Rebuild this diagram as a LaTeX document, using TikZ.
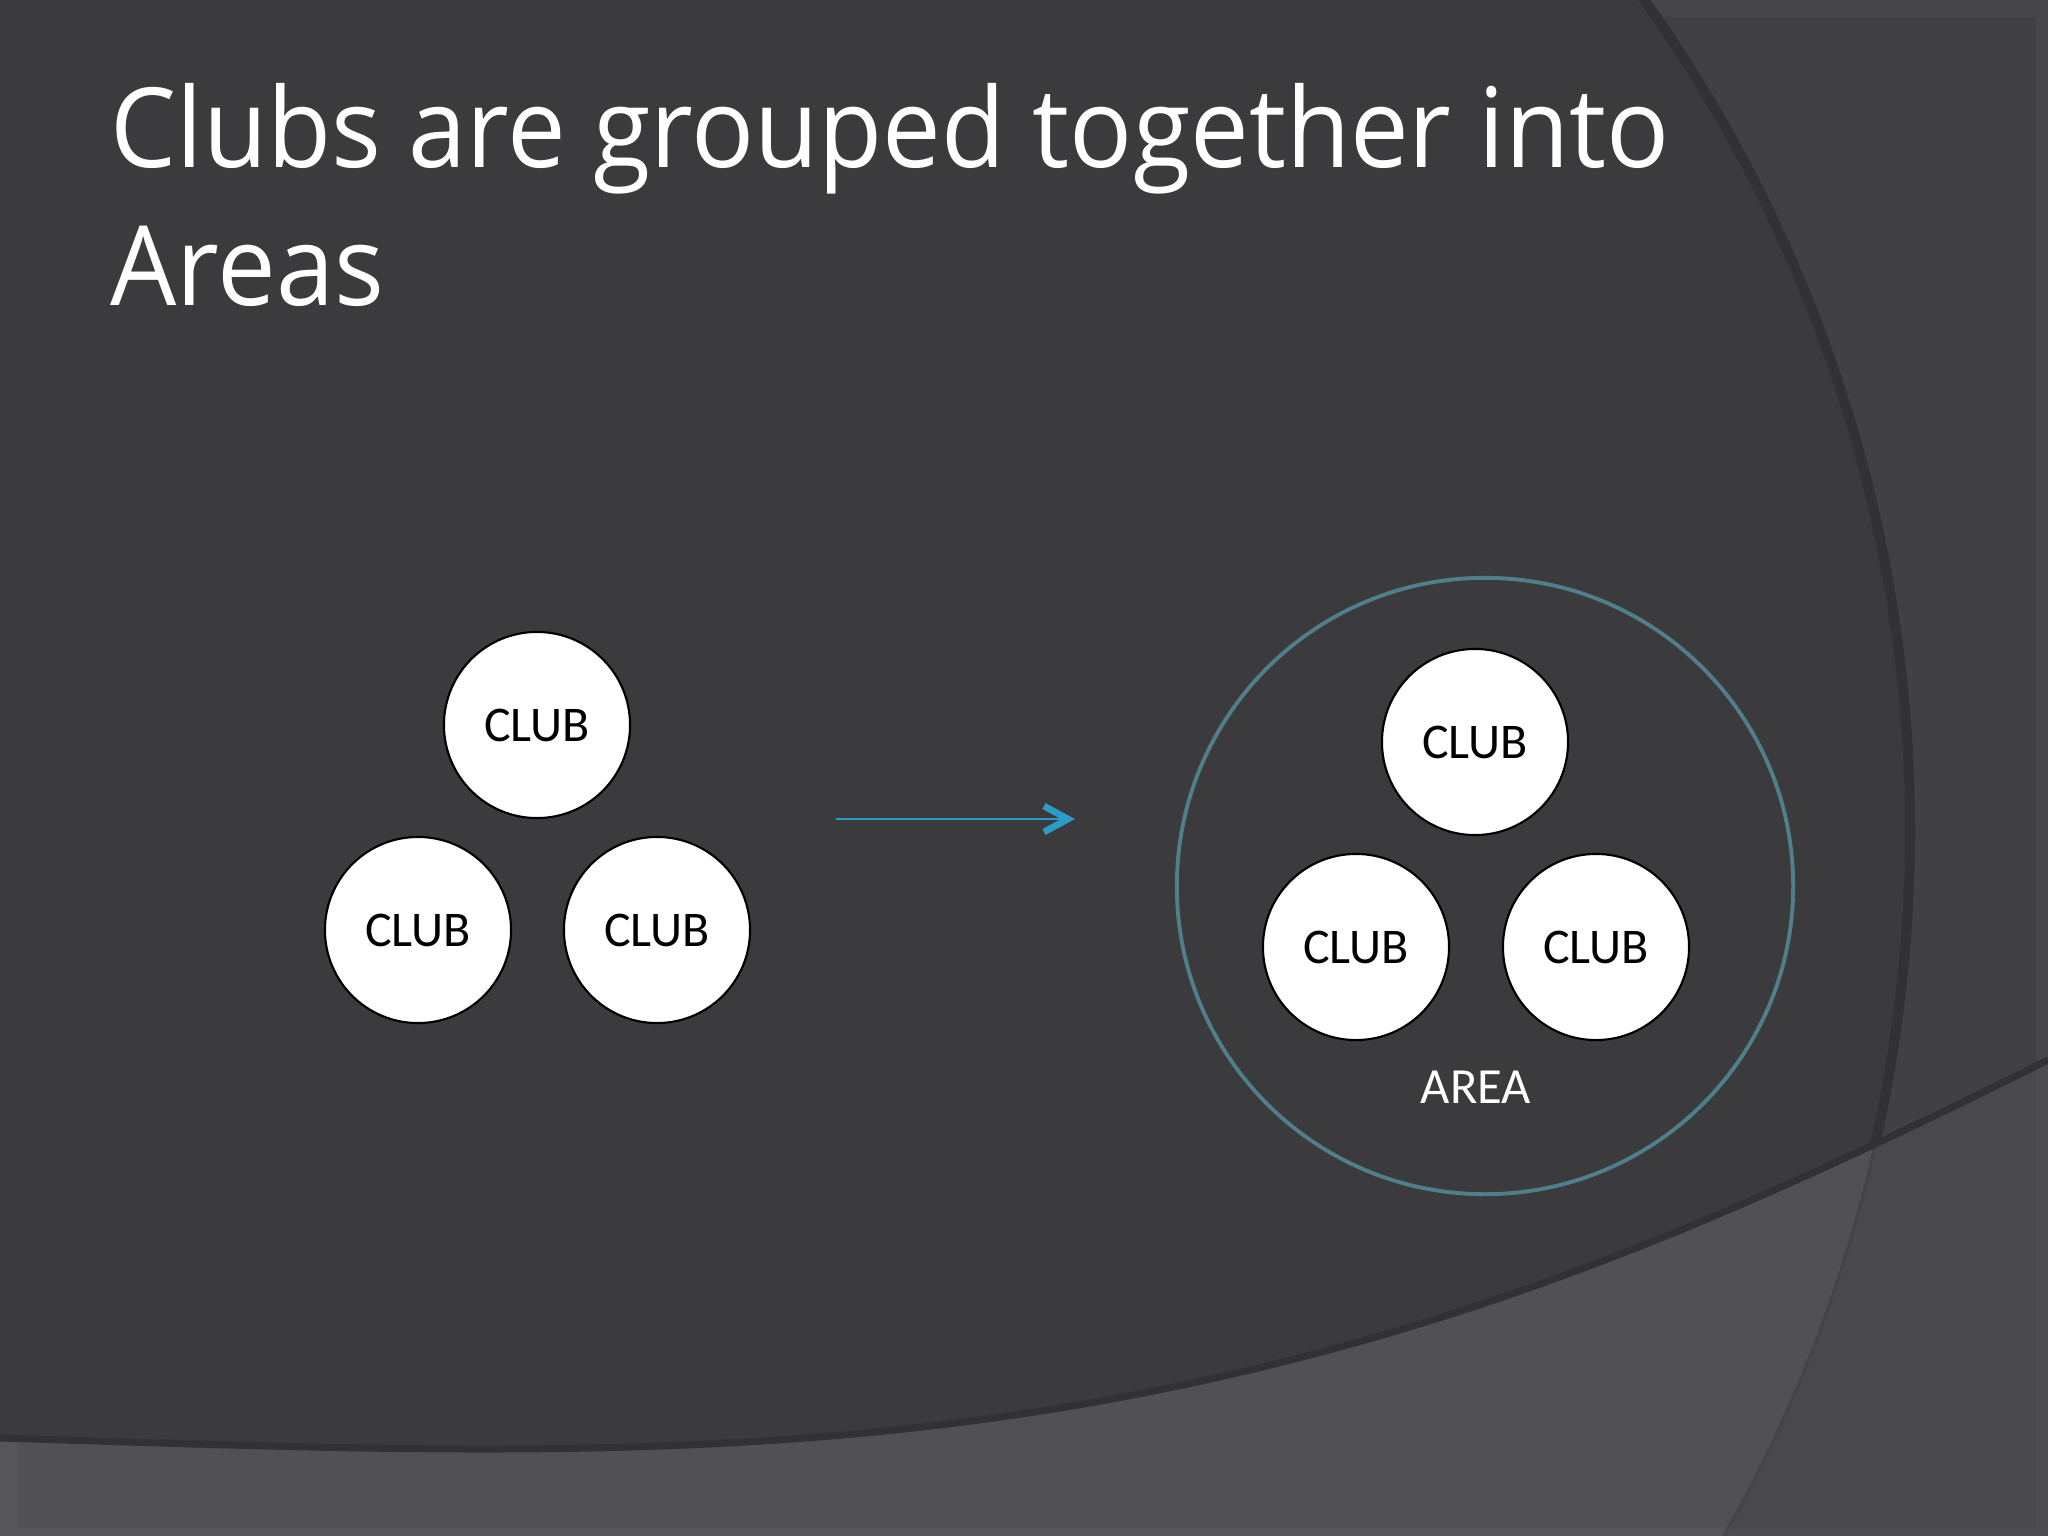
\documentclass[tikz,border=0pt]{standalone}
\usepackage{fontspec}
\usepackage{graphicx}
\usepackage{tikz}
\usetikzlibrary{arrows.meta}

\setmainfont{Open Sans}
\newfontfamily\carlito{Carlito}

\definecolor{slidebg}{RGB}{59,58,60}
\definecolor{sideshade}{RGB}{65,64,66}
\definecolor{lowshade}{RGB}{81,80,83}
\definecolor{lowside}{RGB}{73,72,75}
\definecolor{seamline}{RGB}{50,50,52}
\definecolor{faintseam}{RGB}{68,67,70}
\definecolor{ringline}{RGB}{79,127,139}
\definecolor{arrowblue}{RGB}{43,155,200}

\tikzset{
	club/.style={circle, draw=black, line width=0.6pt, fill=white,
		minimum size=1.86cm, inner sep=0pt,
		font={\carlito\fontsize{14.2}{17}\selectfont}},
	ring/.style={circle, draw=ringline, line width=1.1pt,
		minimum size=6.16cm, inner sep=0pt},
	arealabel/.style={text=white, inner sep=0pt,
		font={\carlito\fontsize{14.4}{17}\selectfont}},
	heading/.style={text=white, inner sep=0pt, anchor=base west},
	flow/.style={draw=arrowblue, line width=0.7pt,
		-{Straight Barb[length=0.24cm, width=0.26cm, line width=1.9pt]}},
}

\begin{document}
\begin{tikzpicture}[x=0.01cm, y=-0.01cm]

	\useasboundingbox (0,0) rectangle (2048,1536);

	% slide background, big arc on the right
	\fill[sideshade] (0,0) rectangle (2048,1536);
	\fill[white, opacity=0.03] (0,0) rectangle (2048,17);
	\fill[white, opacity=0.03] (2036,17) rectangle (2048,1536);
	\fill[slidebg] (480,830) circle[radius=1430];
	\draw[seamline, line width=0.1cm] (1636.9,-10.5) arc[start angle=-36, end angle=30, radius=1430];

	% lower band
	\fill[lowshade] (0,1438) .. controls (450,1452) and (806,1468) .. (1206,1380)
		.. controls (1506,1314) and (1748,1210) .. (2048,1060)
		-- (2048,1536) -- (0,1536) -- cycle;
	\begin{scope}
		\clip (0,1438) .. controls (450,1452) and (806,1468) .. (1206,1380)
			.. controls (1506,1314) and (1748,1210) .. (2048,1060)
			-- (2048,1536) -- (0,1536) -- cycle;
		\fill[lowside] (0,0) rectangle (2048,1536);
		\fill[lowshade] (480,830) circle[radius=1430];
		\draw[faintseam, line width=0.03cm] (480,830) circle[radius=1430];
		\fill[white, opacity=0.03] (0,0) rectangle (18,1528);
		\fill[white, opacity=0.03] (0,1528) rectangle (2048,1536);
		\fill[white, opacity=0.02] (2036,0) rectangle (2048,1528);
	\end{scope}
	\draw[seamline, line width=0.07cm] (0,1438) .. controls (450,1452) and (806,1468) .. (1206,1380)
		.. controls (1506,1314) and (1748,1210) .. (2048,1060);

	% title
	\node[heading] (title) at (110,167) {\resizebox{15.58cm}{\height}{%
		\fontsize{31.5}{39.3}\selectfont
		\begin{tabular}[t]{@{}l@{}}Clubs are grouped together into\\Areas\end{tabular}}};

	% clubs on their own
	\node[club] (c1) at (537,725) {CLUB};
	\node[club] (c2) at (418,930) {CLUB};
	\node[club] (c3) at (657,930) {CLUB};

	% arrow
	\coordinate (from) at (836,819);
	\coordinate (to) at (1075,819);
	\draw[flow] (from) -- (to);

	% clubs inside the area
	\node[ring] (area) at (1485,886) {};
	\node[club] (a1) at (1475,742) {CLUB};
	\node[club] (a2) at (1356,947) {CLUB};
	\node[club] (a3) at (1596,947) {CLUB};
	\node[arealabel] (arealbl) at (1476,1087) {AREA};

\end{tikzpicture}
\end{document}
